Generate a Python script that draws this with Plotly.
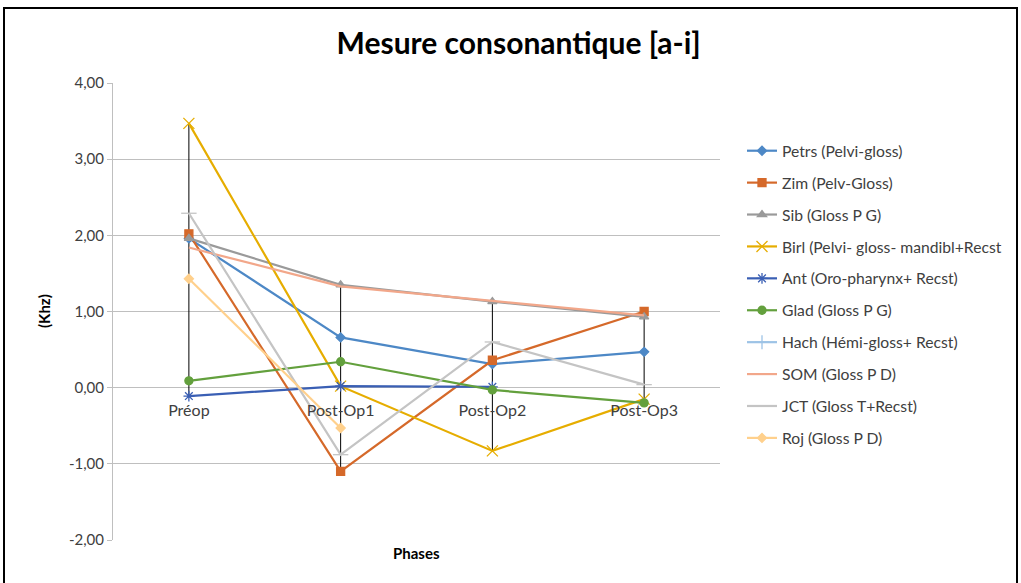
import plotly.graph_objects as go

categories = ["Préop", "Post-Op1", "Post-Op2", "Post-Op3"]

series_names = [
    "Petrs (Pelvi-gloss)",
    "Zim (Pelv-Gloss)",
    "Sib (Gloss P G)",
    "Birl (Pelvi- gloss- mandibl+Recst",
    "Ant (Oro-pharynx+ Recst)",
    "Glad (Gloss P G)",
    "Hach (Hémi-gloss+ Recst)",
    "SOM (Gloss P D)",
    "JCT (Gloss T+Recst)",
    "Roj (Gloss P D)",
]

petrs = [1.96, 0.66, 0.31, 0.47]
zim = [2.02, -1.10, 0.36, 1.00]
sib = [1.96, 1.35, 1.13, 0.93]
birl = [3.47, 0.02, -0.83, -0.15]
ant = [-0.11, 0.02, 0.01, None]
glad = [0.09, 0.34, -0.03, -0.20]
hach = [None, None, None, None]
som = [1.84, 1.33, 1.14, 0.95]
jct = [2.29, -0.88, 0.60, 0.04]
roj = [1.43, -0.53, None, None]

y_ticks = [-2, -1, 0, 1, 2, 3, 4]
y_tick_labels = ["-2,00", "-1,00", "0,00", "1,00", "2,00", "3,00", "4,00"]

all_values = [petrs, zim, sib, birl, ant, glad, hach, som, jct, roj]
colors = ["#4d88c6", "#d5692a", "#9a9a9a", "#e6ad00", "#3a5fb4", "#63a03d",
          "#9dc3e6", "#f2a78a", "#c4c4c4", "#ffd08c"]
symbols = ["diamond", "square", "triangle-up", "x-thin-open", "asterisk-open",
           "circle", "cross-thin-open", "line-ew-open", "line-ew-open", "diamond"]
sizes = [7, 8, 8, 11, 9, 8, 10, 1, 11, 7]
modes = ["lines+markers"] * 7 + ["lines"] + ["lines+markers"] * 2

FONT = "Lato, Open Sans, sans-serif"

fig = go.Figure()

# high-low lines
for i, c in enumerate(categories):
    vals = [v[i] for v in all_values if v[i] is not None]
    fig.add_trace(go.Scatter(x=[c, c], y=[max(vals), min(vals)], mode="lines",
                             line=dict(color="black", width=1),
                             showlegend=False, hoverinfo="skip"))

for k, (name, vals) in enumerate(zip(series_names, all_values)):
    fig.add_trace(go.Scatter(
        x=categories, y=vals, mode=modes[k], name=name,
        line=dict(color=colors[k], width=2.2),
        marker=dict(symbol=symbols[k], size=sizes[k], color=colors[k],
                    line=dict(color=colors[k], width=1.3)),
        legendgroup=f"g{k}", connectgaps=False,
    ))

fig.update_layout(
    width=1021, height=583,
    margin=dict(l=113, r=301, t=83, b=43),
    paper_bgcolor="white", plot_bgcolor="white",
    font=dict(family=FONT, size=15, color="#404040"),
    title=dict(text="<b>Mesure consonantique [a-i]</b>", x=0.508, xanchor="center",
               y=0.925, yanchor="middle",
               font=dict(family=FONT, size=30, color="black")),
    showlegend=True,
    legend=dict(x=(742 - 113) / 607, y=(540 - 134) / 457, xanchor="left", yanchor="top",
                font=dict(family=FONT, size=15.7, color="#404040"),
                tracegroupgap=8.5, bgcolor="rgba(0,0,0,0)"),
    xaxis=dict(type="category", categoryorder="array", categoryarray=categories,
               range=[-0.5, 3.5], anchor="free", position=1/3,
               showgrid=False, showline=False, zeroline=False,
               ticks="outside", ticklen=8, tickcolor="rgba(0,0,0,0)",
               tickfont=dict(family=FONT, size=16, color="#404040")),
    yaxis=dict(range=[-2, 4], tickvals=y_ticks, ticktext=y_tick_labels,
               showgrid=True, gridcolor="#bfbfbf", gridwidth=1,
               zeroline=True, zerolinecolor="#bfbfbf", zerolinewidth=1,
               showline=True, linecolor="#bfbfbf", linewidth=1,
               ticks="outside", ticklen=5, tickcolor="#bfbfbf",
               tickfont=dict(family=FONT, size=15, color="#404040")),
    shapes=[dict(type="rect", xref="paper", yref="paper",
                 x0=(4 - 113) / 607, x1=(1017 - 113) / 607,
                 y0=(540 - 600) / 457, y1=(540 - 8) / 457,
                 line=dict(color="black", width=2), fillcolor="rgba(0,0,0,0)",
                 layer="below")],
    annotations=[
        dict(text="<b>Phases</b>", xref="paper", yref="paper",
             x=0.5, y=(540 - 553) / 457, xanchor="center", yanchor="middle",
             showarrow=False, font=dict(family=FONT, size=15, color="black")),
        dict(text="<b>(Khz)</b>", xref="paper", yref="paper",
             x=(44 - 113) / 607, y=(540 - 311) / 457, xanchor="center", yanchor="middle",
             textangle=-90, showarrow=False, font=dict(family=FONT, size=15, color="black")),
    ],
)

fig.write_html("out.html", config={"displayModeBar": False},
               post_script="document.body.style.margin='0';document.body.style.overflow='hidden';")
